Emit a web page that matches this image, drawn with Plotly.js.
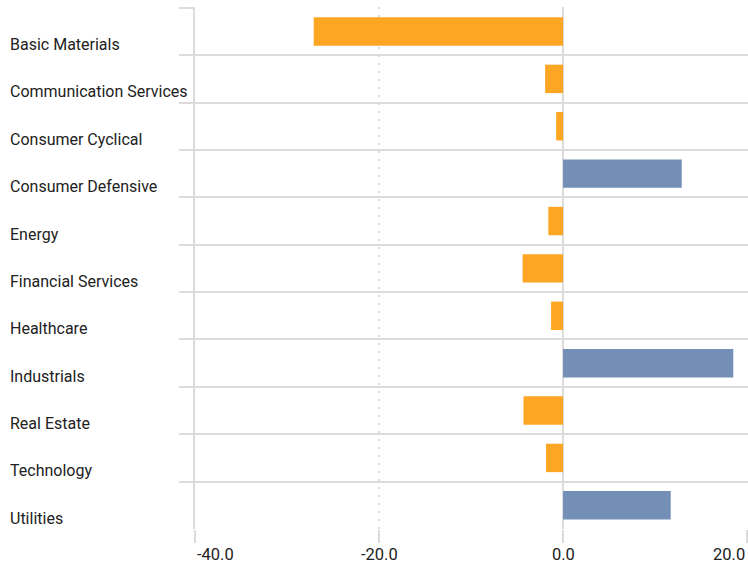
<!DOCTYPE html>
<html>
<head>
<meta charset="utf-8">
<script src="https://cdn.plot.ly/plotly-3.0.1.min.js"></script>
<style>
  html, body { margin: 0; padding: 0; background: #ffffff; }
  #chart { width: 748px; height: 563px; }
</style>
</head>
<body>
<div id="chart"></div>
<script>
const categories = [
  "Basic Materials",
  "Communication Services",
  "Consumer Cyclical",
  "Consumer Defensive",
  "Energy",
  "Financial Services",
  "Healthcare",
  "Industrials",
  "Real Estate",
  "Technology",
  "Utilities"
];
const values = [-27.1, -1.95, -0.75, 12.9, -1.6, -4.4, -1.3, 18.5, -4.3, -1.85, 11.7];
const tickValues = [-40, -20, 0, 20];
const tickLabels = ["-40.0", "-20.0", "0.0", "20.0"];

const negColor = "#FDA623";
const posColor = "#738FB5";
const gridColor = "#dcdcdc";
const labelFont = { family: "Roboto, sans-serif", size: 16, color: "#222222" };
const tickFont = { family: "Roboto, sans-serif", size: 16.5, color: "#222222" };

const trace = {
  type: "bar",
  orientation: "h",
  y: categories,
  x: values,
  width: 0.6,
  marker: { color: values.map(v => v < 0 ? negColor : posColor) },
  hoverinfo: "skip"
};

const plotW = 553;
const annotations = [];
categories.forEach(c => {
  annotations.push({
    xref: "paper", yref: "y", x: -187 / plotW, y: c,
    xanchor: "left", yanchor: "middle", yshift: -13,
    text: c, showarrow: false, font: labelFont
  });
});
tickValues.forEach((v, i) => {
  annotations.push({
    xref: "x", yref: "paper", x: v, y: 0,
    xanchor: i === 0 ? "left" : (i === tickValues.length - 1 ? "right" : "center"),
    yanchor: "top", yshift: -14,
    text: tickLabels[i], showarrow: false, font: tickFont
  });
});

const layout = {
  width: 748, height: 563,
  margin: { l: 195, r: 0, t: 7, b: 34, pad: 0 },
  paper_bgcolor: "#ffffff", plot_bgcolor: "#ffffff",
  showlegend: false,
  xaxis: {
    range: [-40, 20.1],
    tickvals: tickValues,
    showticklabels: false,
    ticks: "outside", ticklen: 13, tickwidth: 2, tickcolor: gridColor,
    showgrid: true, gridcolor: gridColor, gridwidth: 2, griddash: "2px,6px",
    zeroline: true, zerolinecolor: gridColor, zerolinewidth: 2,
    showline: false, fixedrange: true
  },
  yaxis: {
    type: "category",
    categoryorder: "array", categoryarray: categories,
    autorange: "reversed",
    tickson: "boundaries",
    ticks: "outside", ticklen: 14, tickwidth: 2, tickcolor: gridColor,
    showticklabels: false,
    showgrid: true, gridcolor: gridColor, gridwidth: 2,
    showline: true, linecolor: gridColor, linewidth: 2,
    zeroline: false, fixedrange: true
  },
  annotations: annotations
};

Plotly.newPlot("chart", [trace], layout, { displayModeBar: false, staticPlot: true });
</script>
</body>
</html>
